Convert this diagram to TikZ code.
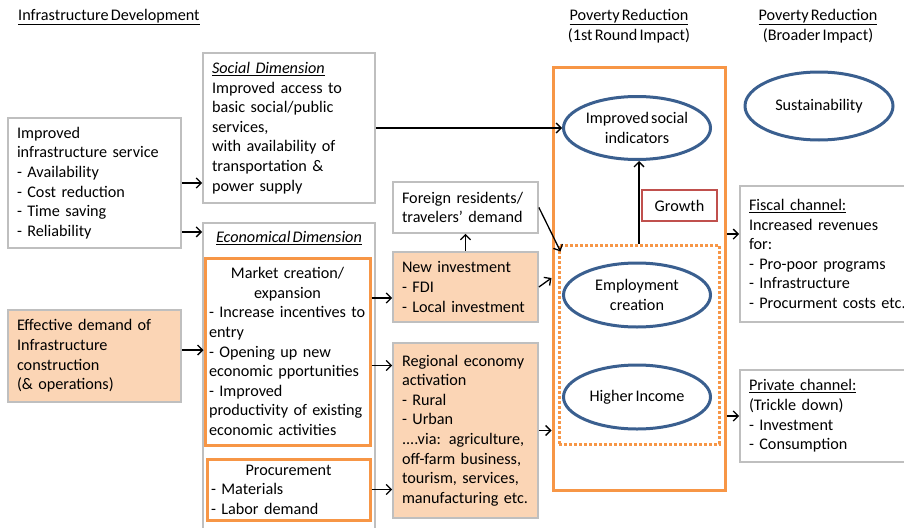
\documentclass[tikz,border=0pt]{standalone}
\usepackage{fontspec}
\setmainfont{Carlito}[WordSpace=0.6]
\usepackage{xcolor}
\usepackage{tikz}
\usetikzlibrary{shapes.geometric, arrows.meta, calc}
\definecolor{orangeline}{HTML}{F79646}
\definecolor{peach}{HTML}{FBD5B5}
\definecolor{grayline}{HTML}{BFBFBF}
\definecolor{blueline}{HTML}{3A5F8F}
\definecolor{redline}{HTML}{C0504D}
\newcommand{\boxfont}{\fontsize{16.2}{19.6}\selectfont\hyphenpenalty=10000}
\tikzstyle{box} = [rectangle, draw=grayline, line width=1.8pt, inner xsep=9pt, inner ysep=0pt, align=left, font=\boxfont]
\tikzstyle{peachbox} = [box, fill=peach]
\tikzstyle{orangebox} = [rectangle, draw=orangeline, line width=3pt, inner xsep=4pt, inner ysep=0pt, align=left, font=\boxfont]
\tikzstyle{oval} = [ellipse, draw=blueline, line width=3pt, inner sep=0pt, align=center, font=\boxfont]
\tikzstyle{heading} = [inner sep=0pt, align=center, font=\boxfont]
\tikzstyle{arrow} = [line width=1.3pt, -{Straight Barb[length=5pt,width=10pt]}]

\begin{document}
\begin{tikzpicture}[x=1pt, y=-1pt]
\fill[white] (0,0) rectangle (904,527);
\useasboundingbox (0,0) rectangle (904,527);

%Headings==============================================
\node (infratitle) [heading, anchor=west] at (18,17) {\underline{Infrastructure Development}};
\node (firstround) [heading] at (629,26) {\underline{Poverty Reduction}\\(1st Round Impact)};
\node (broader) [heading] at (818,26) {\underline{Poverty Reduction}\\(Broader Impact)};

%Left column===========================================
\node (infra) [box, text width=155pt, minimum height=130pt] at (94.5,183) {
	Improved\\infrastructure service\\- Availability\\- Cost reduction\\- Time saving\\- Reliability};
\node (effect) [peachbox, text width=155pt, minimum height=92pt] at (94.5,356) {
	Effective demand of\\Infrastructure\\construction\\(\& operations)};

%Dimensions============================================
\node (social) [box, text width=154pt, minimum height=150pt] at (289,128) {
	\underline{\textit{Social Dimension}}\\Improved access to\\basic social/public\\services,\\with availability of\\transportation \&\\power  supply};
\node (econ) [box, minimum width=172pt, minimum height=317pt] at (289,381.5) {};
\node (econtitle) [heading] at (289,238) {\underline{\textit{Economical Dimension}}};
\node (market) [orangebox, text width=157pt, minimum height=187pt] at (287.5,351.5) {
	\makebox[\linewidth]{Market creation/}\\\makebox[\linewidth]{expansion}\\- Increase incentives to\\entry\\- Opening up new\\economic  pportunities\\- Improved\\productivity of existing\\economic activities};
\node (procure) [orangebox, text width=155pt, minimum height=61pt] at (288.5,489.5) {
	\makebox[\linewidth]{Procurement}\\- Materials\\- Labor demand};

%Middle column=========================================
\node (foreign) [box, text width=127pt, minimum height=51pt] at (465.5,207.5) {
	Foreign residents/\\travelers' demand};
\node (newinv) [peachbox, text width=127pt, minimum height=70pt] at (465.5,287) {
	New investment\\- FDI\\- Local investment};
\node (regional) [peachbox, text width=127pt, minimum height=175pt] at (465.5,430.5) {
	Regional economy\\activation\\- Rural\\- Urban\\....via: agriculture,\\off-farm business,\\tourism, services,\\manufacturing etc.};

%First round impact====================================
\node (big) [rectangle, draw=orangeline, line width=3pt, minimum width=172pt, minimum height=423pt] at (639,278.5) {};
\node (dotted) [rectangle, draw=orangeline, line width=3pt, dash pattern=on 3pt off 2pt, minimum width=160pt, minimum height=199pt] at (639,344.5) {};
\node (isoc) [oval, minimum width=147pt, minimum height=63pt] at (637,128) {Improved social\\indicators};
\node (employ) [oval, minimum width=147pt, minimum height=64pt] at (637,295) {Employment\\creation};
\node (income) [oval, minimum width=147pt, minimum height=64pt] at (637,397) {Higher Income};
\node (growth) [rectangle, draw=redline, line width=2.5pt, minimum width=75pt, minimum height=31pt, font=\boxfont] at (679.5,205.5) {Growth};

%Broader impact========================================
\node (sustain) [oval, minimum width=148pt, minimum height=68pt] at (819,106) {Sustainability};
\node (fiscal) [box, text width=162pt, minimum height=136pt] at (830,254) {
	\underline{Fiscal channel:}\\Increased revenues\\for:\\- Pro-poor programs\\- Infrastructure\\- Procurment costs etc.};
\node (private) [box, text width=162pt, minimum height=92pt] at (830,416) {
	\underline{Private channel:}\\(Trickle down)\\- Investment\\- Consumption};

%Arrows================================================
\draw [arrow] (infra.east) -- (infra.east -| social.west);
\draw [arrow] ($(infra.south east)+(0,-17)$) -- ($(infra.south east -| econ.west)+(0,-17)$);
\draw [arrow] (social.east |- isoc.west) -- (isoc.west);
\draw [arrow] ($(effect.east)+(0,-6)$) -- ($(effect.east -| market.west)+(0,-6)$);
\draw [arrow] ($(market.east |- newinv.west)+(0,11)$) -- ($(newinv.west)+(0,11)$);
\draw [arrow] ($(market.east)+(0,14)$) -- ($(market.east -| regional.west)+(0,14)$);
\draw [arrow] (procure.east) -- (procure.east -| regional.west);
\draw [arrow] (newinv.north) -- (foreign.south);
\draw [arrow] (foreign.east) -- ($(dotted.north west)+(3,8)$);
\draw [arrow] (newinv.east) -- ($(newinv.east -| big.west)+(0,-9)$);
\draw [arrow] (regional.east) -- (regional.east -| big.west);
\draw [arrow] (dotted.north) -- (dotted.north |- isoc.south);
\draw [arrow] ($(big.east |- fiscal.north)+(0,49)$) -- ($(fiscal.north west)+(0,49)$);
\draw [arrow] (private.west -| big.east) -- (private.west);
\end{tikzpicture}
\end{document}
